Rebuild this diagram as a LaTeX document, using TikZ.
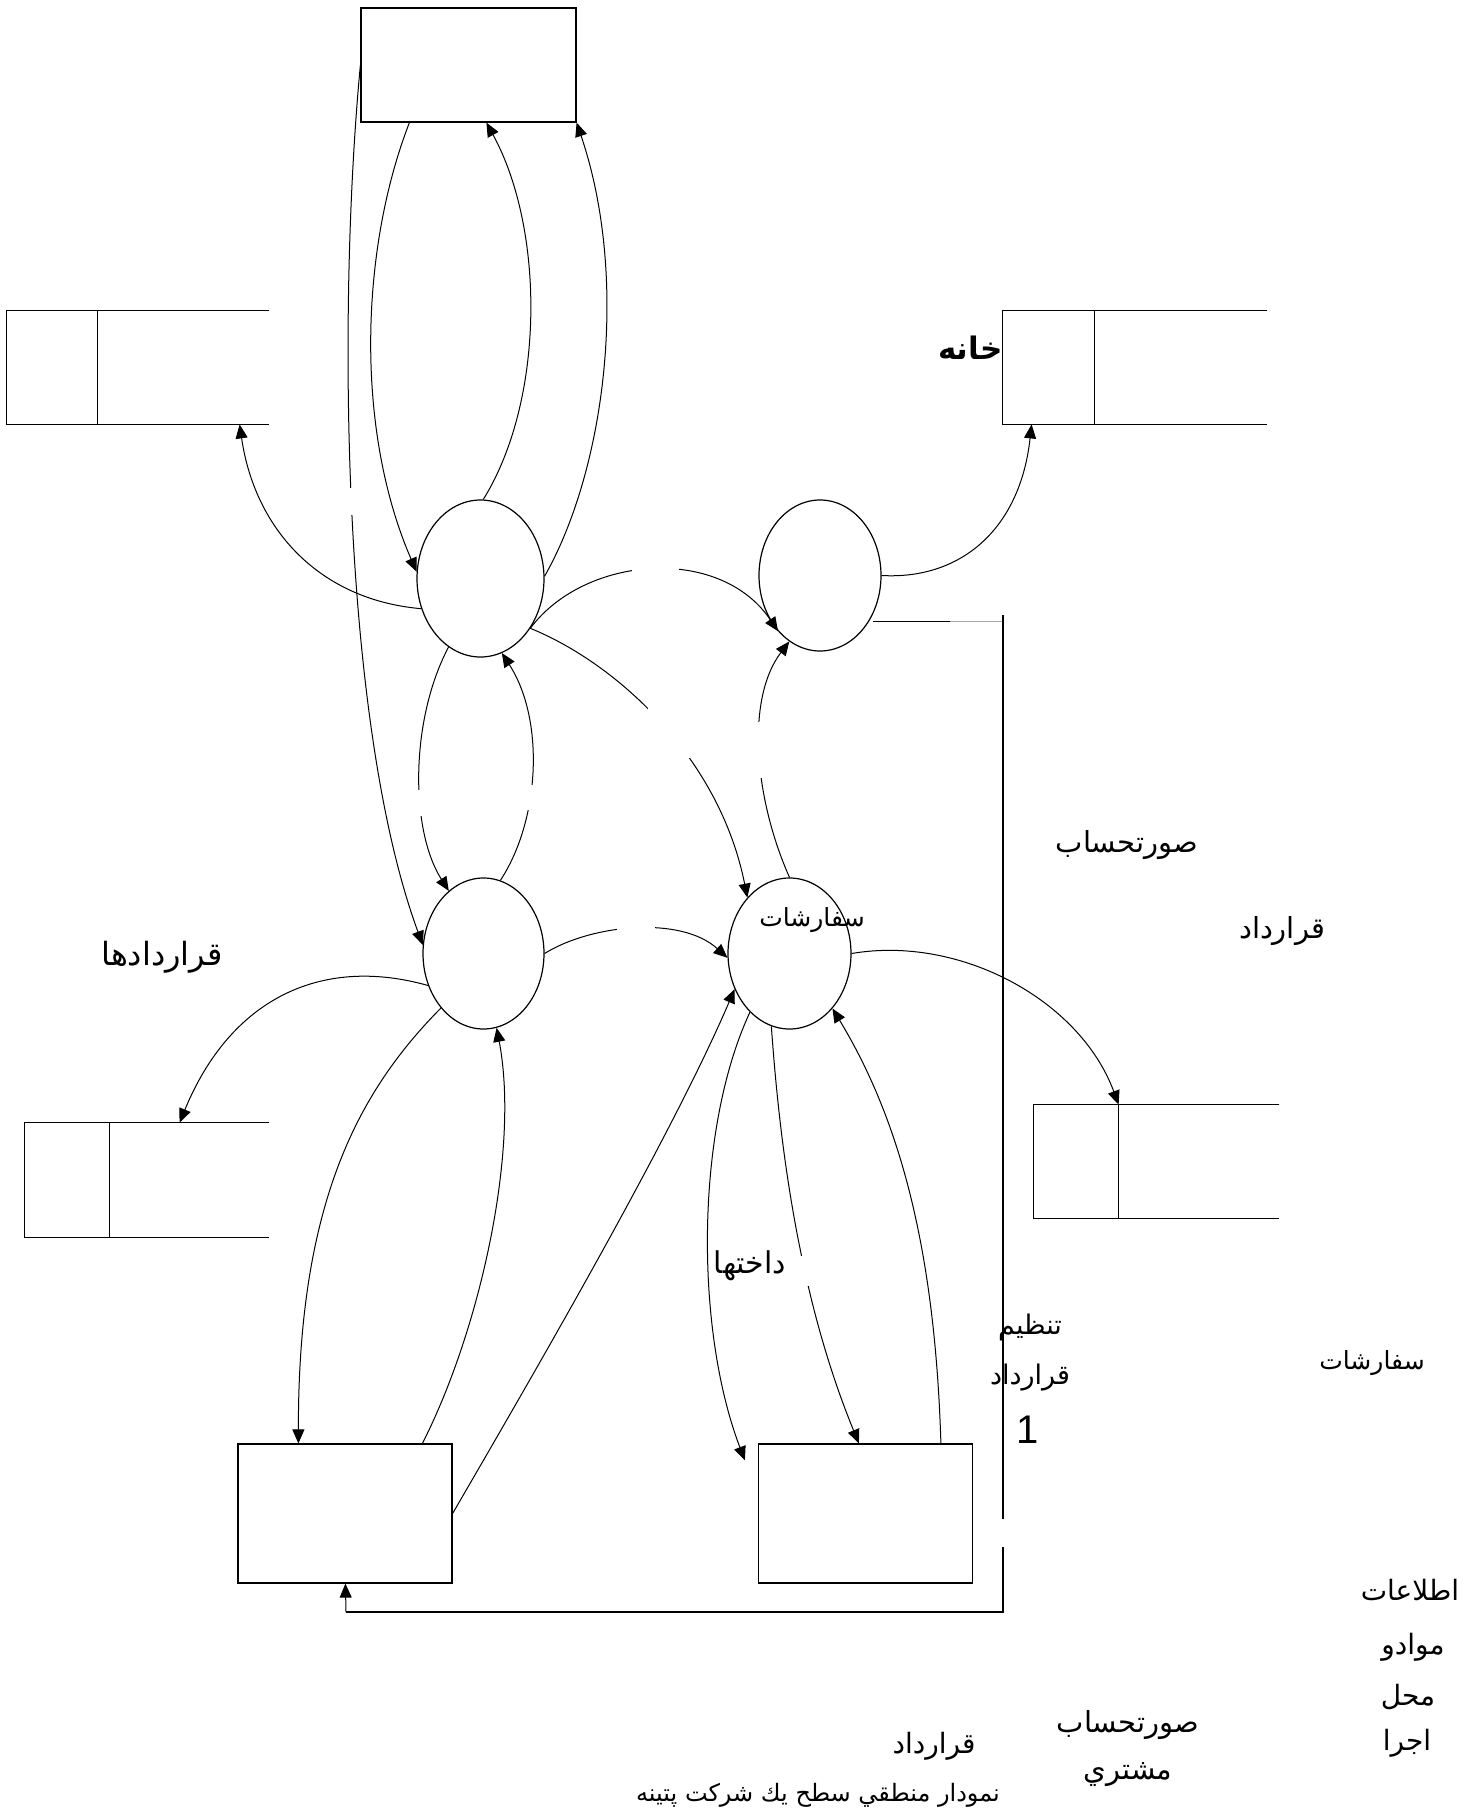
\documentclass[tikz,border=0pt]{standalone}
\usepackage{fontspec}
\usetikzlibrary{shapes.geometric,arrows.meta,calc}
\TeXXeTstate=1
\newfontfamily\arabicfont[Script=Arabic]{DejaVu Sans}
\newfontfamily\latinfont{Liberation Sans}
\begin{document}
\begin{tikzpicture}[x=0.5pt,y=-0.5pt,
 proc/.style={draw,ellipse,inner sep=0pt,line width=0.6pt},
 ent/.style={draw,rectangle,inner sep=0pt,line width=0.6pt},
 storebox/.style={rectangle,inner sep=0pt},
 flow/.style={line width=0.5pt,-{Triangle[length=7pt,width=6pt]}},
 plainline/.style={line width=0.5pt},
 lbl/.style={font=\arabicfont\fontsize{14}{17}\selectfont,inner sep=0pt}]
\useasboundingbox (0,0) rectangle (1480,1818);
\fill[white] (0,0) rectangle (1480,1818);
% processes
\node[proc,minimum width=63.5pt,minimum height=78.5pt] (A) at (480.5,578.5) {};
\node[proc,minimum width=61pt,minimum height=75.5pt] (B) at (820,575.5) {};
\node[proc,minimum width=60.5pt,minimum height=75.5pt] (C) at (483.5,953.5) {};
\node[proc,minimum width=61.5pt,minimum height=75.5pt] (D) at (789.5,953.5) {};
% entities
\node[ent,minimum width=107.5pt,minimum height=57pt] (T) at (468.5,65) {};
\node[ent,minimum width=107pt,minimum height=69.5pt] (E) at (345,1513.5) {};
\node[ent,minimum width=107pt,minimum height=69.5pt] (F) at (865.5,1513.5) {};
% stores
\node[storebox,minimum width=131pt,minimum height=56.5pt] (S1) at (138,367.5) {};
\node[storebox,minimum width=132pt,minimum height=56.5pt] (S2) at (1135,367.5) {};
\node[storebox,minimum width=122pt,minimum height=57pt] (S3) at (147,1180) {};
\node[storebox,minimum width=122.5pt,minimum height=56.5pt] (S4) at (1156.5,1161.5) {};
\foreach \s/\d in {S1/91,S2/92,S3/85,S4/85}{
  \draw[line width=0.6pt] (\s.north east) -- (\s.north west) -- (\s.south west) -- (\s.south east);
  \draw[line width=0.6pt] ($(\s.north west)+(\d,0)$) -- ($(\s.south west)+(\d,0)$);
}
% flows
\draw[flow] (T.west) .. controls (338,300) and (340,720) .. (C.172);
\draw[flow] ($(T.south west)+(49,0)$) .. controls (360,250) and (355,430) .. (A.174);
\draw[flow] (A.88) .. controls (545,400) and (545,230) .. ($(T.south west)+(126,0)$);
\draw[flow] (A.2) .. controls (605,470) and (630,280) .. (T.south east);
\draw[flow] (A.207) .. controls (320,600) and (255,530) .. ($(S1.south west)+(233,0)$);
\draw[flow] (A.-45) .. controls (585,555) and (720,545) .. (B.233);
\draw[flow] (A.-45) .. controls (620,665) and (720,760) .. (D.127);
\draw[flow] (A.245) .. controls (410,720) and (410,830) .. (C.119);
\draw[flow] (C.77) .. controls (540,820) and (545,720) .. (A.286);
\draw[flow] (D.90) .. controls (755,800) and (745,700) .. (B.245);
\draw[flow] (B.0) .. controls (960,580) and (1020,530) .. ($(S2.south west)+(29,0)$);
\draw[flow] (C.0) .. controls (590,925) and (680,915) .. (D.184);
\draw[flow] (C.210) .. controls (320,955) and (230,1000) .. ($(S3.north west)+(155,0)$);
\draw[flow] (C.232) .. controls (360,1090) and (298,1200) .. ($(E.north west)+(61,0)$);
\draw[flow] ($(E.north west)+(185,0)$) .. controls (480,1330) and (520,1150) .. (C.280);
\draw[flow] (E.east) .. controls (530,1380) and (670,1140) .. (D.213);
\draw[flow] (D.236) .. controls (695,1130) and (695,1330) .. ($(F.north west)+(-13,17)$);
\draw[flow] (D.256) .. controls (780,1150) and (800,1300) .. ($(F.north west)+(101,0)$);
\draw[flow] ($(F.north west)+(183,0)$) .. controls (935,1250) and (900,1120) .. (D.308);
\draw[flow] (D.0) .. controls (960,935) and (1080,1000) .. ($(S4.north west)+(85,0)$);
% right boundary line and feedback
\coordinate (hb) at (873,621);
\coordinate (hm) at (950,621);
\coordinate (hr) at (1003,621);
\coordinate (vtop) at (1003,615);
\coordinate (vg1) at (1003,1519);
\coordinate (vg2) at (1003,1547);
\coordinate (vbot) at (1003,1612);
\coordinate (fb) at (346,1612);
\draw[plainline] (hb) -- (hm);
\draw[plainline,black!35] (hm) -- (hr);
\draw[line width=0.6pt] (vtop) -- (vg1);
\draw[line width=0.6pt] (vg2) -- (vbot) -- (fb);
\draw[flow] (fb) -- ($(E.south west)+(108,0)$);
% gaps
\fill[white] (632,558) rectangle (679,590);
\fill[white] (648,698) rectangle (694,758);
\fill[white] (745,722) rectangle (782,778);
\fill[white] (617,915) rectangle (655,945);
\fill[white] (335,488) rectangle (362,515);
\fill[white] (792,1256) rectangle (812,1286);
\fill[white] (410,790) rectangle (436,816);
\fill[white] (518,785) rectangle (545,810);
% labels
\node[lbl,font=\arabicfont\bfseries\fontsize{15.5}{18}\selectfont,anchor=east] (t18) at (1003,348) {\beginR خانه\endR};
\node[lbl,font=\arabicfont\fontsize{14.5}{17}\selectfont] (t1) at (1127,845) {\beginR صورتحساب\endR};
\node[lbl,font=\arabicfont\fontsize{14.5}{17}\selectfont] (t2) at (1282,931) {\beginR قرارداد\endR};
\node[lbl,font=\arabicfont\fontsize{16}{19}\selectfont] (t3) at (162,957) {\beginR قراردادها\endR};
\node[lbl,font=\arabicfont\fontsize{12.5}{15}\selectfont] (t4) at (812,920) {\beginR سفارشات\endR};
\node[lbl,font=\arabicfont\fontsize{15}{18}\selectfont] (t5) at (750,1266) {\beginR داختها\endR};
\node[lbl,font=\arabicfont\fontsize{13.5}{16}\selectfont] (t6) at (1030,1327) {\beginR تنظيم\endR};
\node[lbl,font=\arabicfont\fontsize{13.5}{16}\selectfont] (t7) at (1030,1378) {\beginR قرارداد\endR};
\node[lbl,font=\latinfont\fontsize{20}{24}\selectfont] (t8) at (1028,1430) {1};
\node[lbl,font=\arabicfont\fontsize{12.5}{15}\selectfont] (t9) at (1372,1363) {\beginR سفارشات\endR};
\node[lbl] (t10) at (1410,1590) {\beginR اطلاعات\endR};
\node[lbl] (t11) at (1413,1647) {\beginR موادو\endR};
\node[lbl] (t12) at (1408,1697) {\beginR محل\endR};
\node[lbl] (t13) at (1407,1743) {\beginR اجرا\endR};
\node[lbl,font=\arabicfont\fontsize{14.5}{17}\selectfont] (t14) at (1128,1725) {\beginR صورتحساب\endR};
\node[lbl,font=\arabicfont\fontsize{14.5}{17}\selectfont] (t15) at (1128,1775) {\beginR مشتري\endR};
\node[lbl] (t16) at (934,1746) {\beginR قرارداد\endR};
\node[lbl,font=\arabicfont\fontsize{12}{14}\selectfont] (t17) at (818,1795) {\beginR نمودار منطقي سطح يك شركت پتينه\endR};
\end{tikzpicture}
\end{document}
